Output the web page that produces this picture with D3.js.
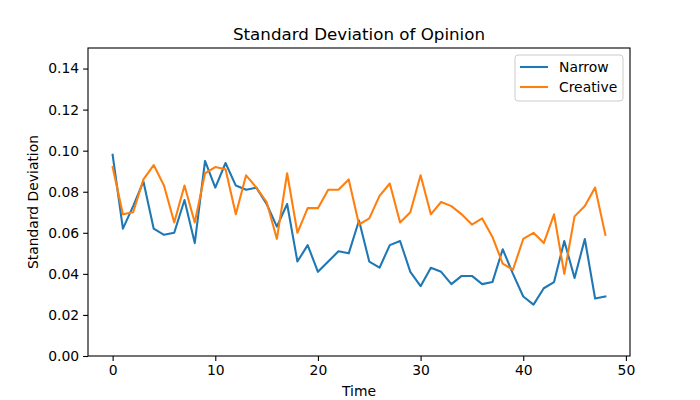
<!DOCTYPE html>
<html>
<head>
<meta charset="utf-8">
<script src="https://cdn.jsdelivr.net/npm/d3@7"></script>
<style>
  body { margin: 0; background: #fff; }
  svg text { font-family: "DejaVu Sans", sans-serif; fill: #000; }
</style>
</head>
<body>
<div id="chart"></div>
<script>
const time = d3.range(0, 49);

const narrow = [
  0.098, 0.062, 0.073, 0.085, 0.062, 0.059, 0.060, 0.076, 0.055, 0.095,
  0.082, 0.094, 0.083, 0.081, 0.082, 0.074, 0.063, 0.074, 0.046, 0.054,
  0.041, 0.046, 0.051, 0.050, 0.066, 0.046, 0.043, 0.054, 0.056, 0.041,
  0.034, 0.043, 0.041, 0.035, 0.039, 0.039, 0.035, 0.036, 0.052, 0.040,
  0.029, 0.025, 0.033, 0.036, 0.056, 0.038, 0.057, 0.028, 0.029
];

const creative = [
  0.092, 0.069, 0.070, 0.086, 0.093, 0.083, 0.065, 0.083, 0.065, 0.089,
  0.092, 0.091, 0.069, 0.088, 0.082, 0.075, 0.057, 0.089, 0.060, 0.072,
  0.072, 0.081, 0.081, 0.086, 0.064, 0.067, 0.078, 0.084, 0.065, 0.070,
  0.088, 0.069, 0.075, 0.073, 0.069, 0.064, 0.067, 0.058, 0.045, 0.042,
  0.057, 0.060, 0.055, 0.069, 0.040, 0.068, 0.073, 0.082, 0.059
];

const seriesNames = ['Narrow', 'Creative'];
const xTicks = [0, 10, 20, 30, 40, 50];
const yTicks = [0, 0.02, 0.04, 0.06, 0.08, 0.10, 0.12, 0.14];

const width = 700, height = 400;
const margin = { top: 48, right: 70, bottom: 44, left: 88 };
const colors = ['#1f77b4', '#ff7f0e'];

const svg = d3.select('#chart')
  .append('svg')
    .attr('width', width)
    .attr('height', height);

const x = d3.scaleLinear()
  .domain([-2.4, 50.4])
  .range([margin.left, width - margin.right]);

const y = d3.scaleLinear()
  .domain([0, 0.15])
  .range([height - margin.bottom, margin.top]);

// axes
const xAxis = svg.append('g')
  .attr('transform', `translate(0,${height - margin.bottom})`)
  .call(d3.axisBottom(x).tickValues(xTicks).tickSize(4.9).tickPadding(4).tickFormat(d3.format('d')));

const yAxis = svg.append('g')
  .attr('transform', `translate(${margin.left},0)`)
  .call(d3.axisLeft(y).tickValues(yTicks).tickSize(4.9).tickPadding(4).tickFormat(d3.format('.2f')));

[xAxis, yAxis].forEach(g => {
  g.select('.domain').remove();
  g.selectAll('text').style('font-size', '13.9px').attr('fill', '#000');
  g.selectAll('line').attr('stroke', '#000').attr('stroke-width', 1.1);
});

// lines
const series = [narrow, creative];
series.forEach((vals, i) => {
  const line = d3.line()
    .x((d, j) => x(time[j]))
    .y(d => y(d));
  svg.append('path')
    .datum(vals)
    .attr('fill', 'none')
    .attr('stroke', colors[i])
    .attr('stroke-width', 2.08)
    .attr('stroke-linejoin', 'round')
    .attr('stroke-linecap', 'square')
    .attr('d', line);
});

// frame
svg.append('rect')
  .attr('x', margin.left)
  .attr('y', margin.top)
  .attr('width', width - margin.left - margin.right)
  .attr('height', height - margin.top - margin.bottom)
  .attr('fill', 'none')
  .attr('stroke', '#000')
  .attr('stroke-width', 1.1);

// title and labels
svg.append('text')
  .attr('x', (margin.left + width - margin.right) / 2)
  .attr('y', 40)
  .attr('text-anchor', 'middle')
  .style('font-size', '16.7px')
  .text('Standard Deviation of Opinion');

svg.append('text')
  .attr('x', (margin.left + width - margin.right) / 2)
  .attr('y', 396)
  .attr('text-anchor', 'middle')
  .style('font-size', '13.9px')
  .text('Time');

svg.append('text')
  .attr('transform', `translate(38,${(margin.top + height - margin.bottom) / 2}) rotate(-90)`)
  .attr('text-anchor', 'middle')
  .style('font-size', '13.9px')
  .text('Standard Deviation');

// legend
const lx = 515, ly = 55;
const legend = svg.append('g').attr('transform', `translate(${lx},${ly})`);
legend.append('rect')
  .attr('width', 108)
  .attr('height', 46)
  .attr('rx', 3)
  .attr('fill', '#fff')
  .attr('fill-opacity', 0.8)
  .attr('stroke', '#ccc')
  .attr('stroke-width', 1);

seriesNames.forEach((name, i) => {
  const yy = 12 + i * 20;
  legend.append('line')
    .attr('x1', 5).attr('x2', 33)
    .attr('y1', yy).attr('y2', yy)
    .attr('stroke', colors[i])
    .attr('stroke-width', 2.08);
  legend.append('text')
    .attr('x', 44)
    .attr('y', yy + 5)
    .style('font-size', '13.9px')
    .text(name);
});
</script>
</body>
</html>
